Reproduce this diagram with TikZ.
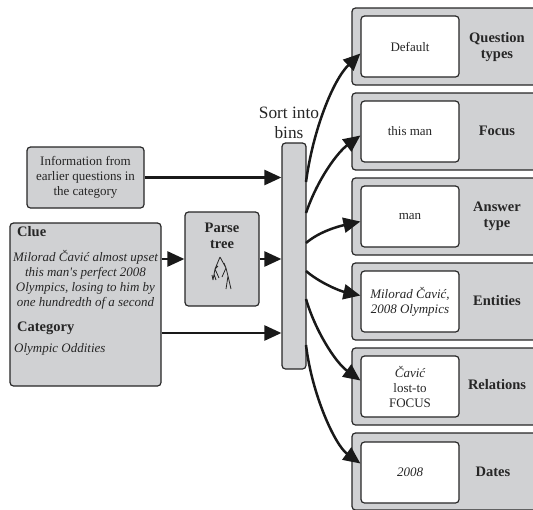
\documentclass[tikz,border=0pt]{standalone}
\usepackage{fontspec}
\setmainfont{Liberation Serif}
\usetikzlibrary{arrows.meta}
\definecolor{boxgray}{HTML}{D0D1D3}
\tikzset{
  gbox/.style={draw=black!85,line width=1.2pt,fill=boxgray,rounded corners=3.5pt,inner sep=0pt,align=center,font=\fontsize{13}{15}\selectfont,text=black!85},
  wbox/.style={gbox,fill=white,minimum width=98pt,minimum height=61pt},
  obox/.style={gbox,minimum width=190pt,minimum height=77pt},
  lbl/.style={inner sep=0pt,align=center,font=\fontsize{14.5}{16}\selectfont\bfseries,text=black!85},
  txt/.style={inner sep=0pt,align=center,font=\fontsize{13}{15}\selectfont\itshape,text=black!85},
  conn/.style={line width=2.5pt,black!90,-{Triangle[length=17pt,width=15pt]}},
  branch/.style={line width=.8pt,black!85}
}
\begin{document}
\begin{tikzpicture}[x=1pt,y=-1pt]
\useasboundingbox (0,0) rectangle (533,509);
\clip (0,0) rectangle (533,509);
% left
\node[gbox,minimum width=117pt,minimum height=61pt] (info) at (85.5,177.5) {Information from\\earlier questions in\\the category};
\node[gbox,minimum width=151pt,minimum height=163pt] (clue) at (85.5,304.5) {};
\node[gbox,minimum width=74pt,minimum height=94pt] (parse) at (222,259) {};
\node[gbox,minimum width=24pt,minimum height=226pt] (sort) at (294,256) {};
\node[lbl,anchor=west] (cluelbl) at (17,232) {Clue};
\node[txt] (cluetxt) at (85.5,279.5) {Milorad Čavić almost upset\\this man\textquotesingle s perfect 2008\\Olympics, losing to him by\\one hundredth of a second};
\node[lbl,anchor=west] (catlbl) at (17,328) {Category};
\node[txt,anchor=west] (cattxt) at (14,349) {Olympic Oddities};
\node[lbl] (parselbl) at (222,236) {Parse\\tree};
\node[inner sep=0pt,align=center,font=\fontsize{17.3}{20}\selectfont,text=black!85] (sortlbl) at (289,123) {Sort into\\bins};
% tree
\draw[branch] (220,257) -- (215,269) -- (213,280) (215,269) -- (219,278) (214,274) -- (216,280)
 (220,257) -- (226,268) -- (222,277) (226,268) -- (228,276) -- (226,289) (228,276) -- (231,289)
 (215,269) -- (218,266) (226,268) -- (224,263) (213,280) -- (212,275);
% outer boxes
\node[obox] (o1) at (447,46.5) {};
\node[obox] (o2) at (447,131.5) {};
\node[obox] (o3) at (447,216.5) {};
\node[obox] (o4) at (447,301.5) {};
\node[obox] (o5) at (447,386.5) {};
\node[obox] (o6) at (447,471.5) {};
\node[wbox] (q1) at (410,46.5) {Default};
\node[wbox] (q2) at (410,131.5) {this man};
\node[wbox] (q3) at (410,216.5) {man};
\node[wbox] (q4) at (410,301.5) {\itshape Milorad Čavić,\\\itshape 2008 Olympics};
\node[wbox] (q5) at (410,386.5) {\itshape Čavić\\lost-to\\FOCUS};
\node[wbox] (q6) at (410,472.5) {\itshape 2008};
\node[lbl] (l1) at (497,47) {Question\\types};
\node[lbl] (l2) at (497,131) {Focus};
\node[lbl] (l3) at (497,216) {Answer\\type};
\node[lbl] (l4) at (497,301) {Entities};
\node[lbl] (l5) at (497,385) {Relations};
\node[lbl] (l6) at (493,472) {Dates};
% connectors
\coordinate (s1) at (306,182);
\coordinate (s2) at (306,213);
\coordinate (s3) at (306,243);
\coordinate (s4) at (306,271);
\coordinate (s5) at (306,299);
\coordinate (s6) at (306,345);
\draw[conn] (info.east) -- (info.east -| sort.west);
\draw[conn] (clue.east |- parse.west) -- (parse.west);
\draw[conn] (parse.east) -- (parse.east -| sort.west);
\draw[conn] (clue.east |- 0,333) -- (sort.west |- 0,333);
\draw[conn] (s1) .. controls (313,130) and (333,80) .. ([yshift=-7pt]q1.west);
\draw[conn] (s2) .. controls (318,178) and (338,152) .. ([yshift=-4pt]q2.west);
\draw[conn] (s3) .. controls (320,231) and (340,226) .. ([yshift=-5pt]q3.west);
\draw[conn] (s4) .. controls (320,283) and (340,291) .. ([yshift=6pt]q4.west);
\draw[conn] (s5) .. controls (315,330) and (335,362) .. ([yshift=6pt]q5.west);
\draw[conn] (s6) .. controls (312,395) and (335,445) .. ([yshift=9pt]q6.west);
\end{tikzpicture}
\end{document}
